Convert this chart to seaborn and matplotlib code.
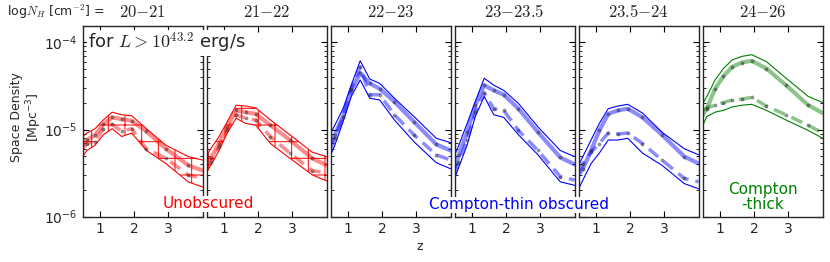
import matplotlib
matplotlib.use("Agg")
import matplotlib.pyplot as plt
from matplotlib.ticker import LogLocator, NullFormatter
import seaborn as sns
import numpy as np

# redshift grid shared by all curves
z = [0.5, 0.62, 0.86, 1.1, 1.36, 1.64, 1.93, 2.36, 2.93, 3.58, 4.0]

# panel titles (log N_H ranges)
titles = ["$20{-}21$", "$21{-}22$", "$22{-}23$", "$23{-}23.5$", "$23.5{-}24$", "$24{-}26$"]
colors = ["red", "red", "blue", "blue", "blue", "green"]

# log10 space density [Mpc^-3]
upper = [
    [-5.08, -5.04, -4.99, -4.89, -4.80, -4.83, -4.84, -4.99, -5.18, -5.31, -5.35],
    [-5.29, -5.22, -5.08, -4.91, -4.72, -4.73, -4.75, -4.89, -5.06, -5.26, -5.31],
    [-5.04, -4.95, -4.76, -4.49, -4.21, -4.42, -4.47, -4.64, -4.85, -5.10, -5.15],
    [-5.29, -5.18, -4.93, -4.68, -4.41, -4.49, -4.55, -4.70, -4.97, -5.24, -5.31],
    [-5.41, -5.31, -5.12, -4.93, -4.76, -4.73, -4.71, -4.81, -5.03, -5.22, -5.29],
    [-4.70, -4.62, -4.43, -4.30, -4.20, -4.16, -4.14, -4.22, -4.41, -4.62, -4.69],
]
central = [
    [-5.18, -5.12, -5.06, -4.94, -4.86, -4.88, -4.90, -5.02, -5.22, -5.41, -5.47],
    [-5.37, -5.33, -5.16, -4.97, -4.78, -4.80, -4.82, -4.95, -5.12, -5.33, -5.41],
    [-5.16, -5.06, -4.85, -4.55, -4.35, -4.47, -4.53, -4.68, -4.91, -5.17, -5.24],
    [-5.43, -5.29, -5.03, -4.72, -4.49, -4.55, -4.60, -4.76, -5.03, -5.32, -5.40],
    [-5.52, -5.45, -5.24, -5.01, -4.82, -4.78, -4.76, -4.86, -5.06, -5.31, -5.39],
    [-4.83, -4.76, -4.53, -4.39, -4.28, -4.23, -4.21, -4.30, -4.49, -4.72, -4.81],
]
dashed = [
    [-5.22, -5.16, -5.14, -4.99, -4.94, -5.02, -4.99, -5.22, -5.33, -5.52, -5.56],
    [-5.43, -5.37, -5.20, -5.01, -4.83, -4.87, -4.89, -5.08, -5.27, -5.47, -5.50],
    [-5.22, -5.10, -4.85, -4.53, -4.28, -4.60, -4.60, -4.83, -5.06, -5.29, -5.35],
    [-5.50, -5.37, -5.12, -4.80, -4.58, -4.76, -4.78, -5.01, -5.24, -5.54, -5.58],
    [-5.49, -5.39, -5.26, -5.16, -5.04, -5.05, -5.04, -5.16, -5.35, -5.56, -5.60],
    [-4.78, -4.75, -4.72, -4.69, -4.66, -4.65, -4.63, -4.73, -4.83, -4.95, -5.04],
]
lower = [
    [-5.31, -5.24, -5.18, -5.06, -4.99, -5.08, -5.04, -5.24, -5.39, -5.60, -5.66],
    [-5.49, -5.41, -5.24, -5.04, -4.87, -4.93, -4.95, -5.16, -5.33, -5.52, -5.59],
    [-5.29, -5.18, -4.91, -4.62, -4.43, -4.64, -4.66, -4.89, -5.14, -5.38, -5.45],
    [-5.56, -5.43, -5.18, -4.85, -4.62, -4.83, -4.86, -5.06, -5.29, -5.60, -5.64],
    [-5.68, -5.58, -5.39, -5.27, -5.12, -5.12, -5.10, -5.27, -5.41, -5.62, -5.68],
    [-4.95, -4.85, -4.80, -4.78, -4.74, -4.72, -4.71, -4.78, -4.89, -5.01, -5.10],
]

sns.set_style("ticks")
plt.rcParams.update({
    "font.family": ["DejaVu Sans"],
    "mathtext.fontset": "dejavusans",
    "xtick.direction": "in",
    "ytick.direction": "in",
    "xtick.top": True,
    "ytick.right": True,
    "ytick.minor.visible": True,
    "ytick.minor.size": 2.5,
    "ytick.minor.width": 0.6,
    "ytick.major.size": 4.5,
    "xtick.major.size": 4.5,
    "xtick.labelsize": 10,
    "ytick.labelsize": 10,
    "hatch.linewidth": 0.7,
})

fig, axes = plt.subplots(1, 6, sharey=True, figsize=(8.3, 2.62), dpi=100)
fig.subplots_adjust(left=0.0996, right=0.9912, bottom=0.173, top=0.902, wspace=0.034)
axes[0].set_yscale("log")

inner = list(range(1, len(z) - 1))
for i, ax in enumerate(axes):
    c = colors[i]
    hi = 10 ** np.array(upper[i])
    lo = 10 ** np.array(lower[i])
    if c == "red":
        ax.fill_between(z, lo, hi, facecolor="none", edgecolor=c, linewidth=0, hatch="+")
    sns.lineplot(x=z, y=hi, ax=ax, color=c, lw=0.8, sort=False)
    sns.lineplot(x=z, y=lo, ax=ax, color=c, lw=0.8, sort=False)
    sns.lineplot(x=z, y=10 ** np.array(central[i]), ax=ax, color=c, lw=3, alpha=0.45,
                 sort=False, marker=".", markersize=4, markerfacecolor="#333333",
                 markeredgecolor="#333333", markevery=inner)
    sns.lineplot(x=z, y=10 ** np.array(dashed[i]), ax=ax, color=c, lw=2.5, alpha=0.45,
                 sort=False, linestyle=(0, (3.5, 2)), marker=".", markersize=4,
                 markerfacecolor="#333333", markeredgecolor="#333333", markevery=inner)
    ax.set_xlim(0.5, 4.0)
    ax.set_xticks([1, 2, 3])
    ax.set_xlabel("")
    ax.set_title(titles[i], fontsize=12, math_fontfamily="cm", pad=6)
    for s in ax.spines.values():
        s.set_linewidth(1.0)

axes[0].set_ylim(1e-6, 1.56e-4)
axes[0].yaxis.set_minor_locator(LogLocator(base=10, subs=np.arange(2, 10), numticks=20))
axes[0].yaxis.set_minor_formatter(NullFormatter())
for i, ax in enumerate(axes):
    ax.tick_params(which="both", color="black", left=True, right=True)
    ax.tick_params(axis="x", which="minor", bottom=False, top=False)
    if i > 0:
        ax.tick_params(labelleft=False)

fig.text(7 / 830, 1 - 12 / 262, r"log$N_H$ [cm$^{-2}$] =", fontsize=9, va="center",
         math_fontfamily="cm")
fig.text(88 / 830, 1 - 43 / 262, r"for $L>10^{43.2}$ erg/s", fontsize=13, va="center",
         math_fontfamily="cm", zorder=10,
         bbox=dict(facecolor="white", edgecolor="none", pad=0.5))
fig.text(208 / 830, 1 - 204 / 262, "Unobscured", color="red", fontsize=11,
         ha="center", va="center", zorder=10,
         bbox=dict(facecolor="white", edgecolor="none", pad=0.5))
fig.text(519 / 830, 1 - 205 / 262, "Compton-thin obscured", color="blue", fontsize=11,
         ha="center", va="center", zorder=10,
         bbox=dict(facecolor="white", edgecolor="none", pad=0.5))
fig.text(763 / 830, 1 - 197 / 262, "Compton\n-thick", color="green", fontsize=11,
         ha="center", va="center", linespacing=1.0, zorder=10)
fig.text(27 / 830, 1 - 117 / 262, "Space Density\n[Mpc$^{-3}$]", fontsize=9,
         rotation=90, ha="center", va="center", linespacing=1.1)
fig.text(420 / 830, 1 - 247 / 262, "z", fontsize=9, ha="center", va="center")

fig.savefig("out.png", dpi=100)
